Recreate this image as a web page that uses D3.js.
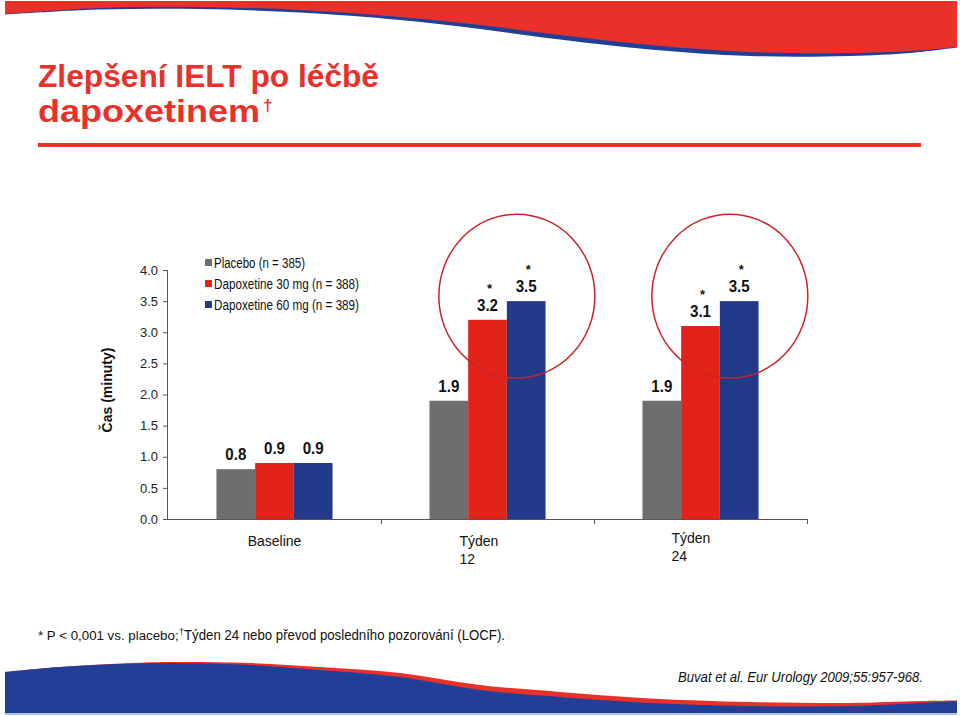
<!DOCTYPE html>
<html>
<head>
<meta charset="utf-8">
<script src="https://cdn.jsdelivr.net/npm/d3@7"></script>
<style>
  html,body{margin:0;padding:0;background:#fff;}
  svg{display:block;font-family:"Liberation Sans",Arial,Helvetica,sans-serif;}
</style>
</head>
<body>
<svg id="chart" width="960" height="716"></svg>
<script>
// ---- data ----
const categories = ["Baseline", "Týden 12", "Týden 24"];
const categoryLines = [["Baseline"], ["Týden", "12"], ["Týden", "24"]];
const seriesNames = ["Placebo (n = 385)", "Dapoxetine 30 mg (n = 388)", "Dapoxetine 60 mg (n = 389)"];
const placebo = [0.8, 1.9, 1.9];
const dapo30 = [0.9, 3.2, 3.1];
const dapo60 = [0.9, 3.5, 3.5];
const significant30 = [false, true, true];
const significant60 = [false, true, true];
const yTicks = [0, 0.5, 1.0, 1.5, 2.0, 2.5, 3.0, 3.5, 4.0];
const seriesColors = ["#6e6e6e", "#e2231a", "#233a8b"];

const svg = d3.select("#chart");

// ---- decorative waves ----
const waveRed = "#ea3129", waveBlue = "#213f97";
const curve = d3.line().curve(d3.curveCatmullRom.alpha(0.5));
const topEdge = [[5,14],[100,8],[200,7],[300,10],[400,17],[480,25],[560,35],[650,45],[750,52],[850,53],[910,51],[957,47]];
const topBlueOff = [0.5,1.5,2,2.5,3,4,4.5,4.5,4,3,2,0.5];
const topBlueEdge = topEdge.map((p,i)=>[p[0], p[1]+topBlueOff[i]]);
function bandPath(edge, yTop){
  const c = curve(edge.slice().reverse());
  return `M5,${yTop}L957,${yTop}L` + c.slice(1) + "Z";
}
svg.append("path").attr("d", bandPath(topBlueEdge, 1)).attr("fill", waveBlue);
svg.append("path").attr("d", bandPath(topEdge, 1)).attr("fill", waveRed);

const botEdge = [[5,672],[60,667],[120,664],[170,663],[250,665],[320,670],[400,677],[480,690],[560,697],[650,703],[750,706],[850,706],[920,703],[957,701]];
const botRedOff = [0,0,0.5,1,2,3,4,5,5,4.5,4,3,2,0.5];
const botRedEdge = botEdge.map((p,i)=>[p[0], p[1]-botRedOff[i]]);
function botPath(edge){
  return curve(edge) + "L957,713L5,713Z";
}
svg.append("path").attr("d", botPath(botRedEdge)).attr("fill", waveRed);
svg.append("path").attr("d", botPath(botEdge)).attr("fill", waveBlue);
svg.append("rect").attr("x",5).attr("y",713).attr("width",952).attr("height",2).attr("fill","#a9c3e0");

// ---- title ----
const titleColor = "#e8312a";
svg.append("text").attr("x",38).attr("y",87).attr("fill",titleColor)
  .attr("font-size",31).attr("font-weight","bold")
  .attr("textLength",341).attr("lengthAdjust","spacingAndGlyphs")
  .text("Zlepšení IELT po léčbě");
svg.append("text").attr("x",38).attr("y",121.5).attr("fill",titleColor)
  .attr("font-size",31).attr("font-weight","bold")
  .attr("textLength",222).attr("lengthAdjust","spacingAndGlyphs")
  .text("dapoxetinem");
svg.append("text").attr("x",263).attr("y",111).attr("fill",titleColor)
  .attr("font-size",17).attr("font-weight","bold").text("†");
svg.append("rect").attr("x",38).attr("y",143).attr("width",883).attr("height",4).attr("fill",titleColor);

// ---- chart ----
const x0 = 168, x1 = 807, yBase = 519, yTop = 270;
const x = d3.scaleBand().domain(categories).range([x0, x1]).paddingInner(0).paddingOuter(0);
const groupW = x.bandwidth() * 0.545;
const xs = d3.scaleBand().domain([0,1,2]).range([0, groupW]).padding(0);
const y = d3.scaleLinear().domain([0, 4]).range([yBase, yTop]);

const g = svg.append("g");

const yAxis = d3.axisLeft(y).tickValues(yTicks).tickFormat(d3.format(".1f")).tickSize(5).tickPadding(5);
const ya = g.append("g").attr("transform",`translate(${x0},0)`).call(yAxis);
ya.selectAll("text").attr("font-size",13).attr("fill","#222").attr("font-family","Liberation Sans, Arial, sans-serif");
ya.selectAll("line").attr("stroke","#555");
ya.select(".domain").attr("stroke","#555").attr("d",`M-0.5,${yTop}V${yBase}`);

const xa = g.append("g");
xa.append("line").attr("x1",x0).attr("x2",x1).attr("y1",yBase+0.5).attr("y2",yBase+0.5).attr("stroke","#555");
categories.forEach((c)=>{
  const bx = x(c) + x.bandwidth();
  xa.append("line").attr("x1",bx+0.5).attr("x2",bx+0.5).attr("y1",yBase).attr("y2",yBase+5).attr("stroke","#555");
});

const series = [placebo, dapo30, dapo60];
const sig = [null, significant30, significant60];
series.forEach((vals, si)=>{
  vals.forEach((v, ci)=>{
    const cx = x(categories[ci]) + (x.bandwidth()-groupW)/2 + xs(si);
    g.append("rect").attr("x",cx).attr("y",y(v)).attr("width",xs.bandwidth()).attr("height",yBase-y(v))
      .attr("fill",seriesColors[si]);
    const lx = cx + xs.bandwidth()/2;
    const ly = y(v) - 9;
    g.append("text").attr("x",lx).attr("y",ly).attr("text-anchor","middle")
      .attr("font-size",17).attr("font-weight","bold").attr("fill","#111")
      .attr("textLength",21).attr("lengthAdjust","spacingAndGlyphs")
      .text(v.toFixed(1));
    if (sig[si] && sig[si][ci]) {
      g.append("text").attr("x",lx+2).attr("y",ly-18.3).attr("text-anchor","middle")
        .attr("font-size",13).attr("font-weight","bold").attr("fill","#111").text("*");
    }
  });
});

[1,2].forEach(ci=>{
  const gx = x(categories[ci]) + (x.bandwidth()-groupW)/2;
  const cx = gx + xs(1) + xs.bandwidth();
  const cy = y(3.5) - 5;
  g.append("ellipse").attr("cx",cx+10).attr("cy",cy).attr("rx",78).attr("ry",82)
    .attr("fill","none").attr("stroke","#cc2229").attr("stroke-width",1.5);
});

const labelOffsets = [0, -28, -29];
const labelTop = [541, 541, 538];
categories.forEach((c,i)=>{
  const cx = x(c) + x.bandwidth()/2 + labelOffsets[i];
  const t = g.append("text").attr("x",cx).attr("y",labelTop[i]+5)
    .attr("text-anchor", i===0 ? "middle" : "start")
    .attr("font-size",14).attr("fill","#111");
  categoryLines[i].forEach((ln,j)=>{
    t.append("tspan").attr("x",cx).attr("dy", j===0?0:18).text(ln);
  });
});

g.append("text").attr("transform","translate(112,390) rotate(-90)")
  .attr("text-anchor","middle").attr("font-size",14).attr("font-weight","bold").attr("fill","#111")
  .text("Čas (minuty)");

const legendLens = [91, 145, 145];
seriesNames.forEach((n,i)=>{
  const ly = 263 + i*21;
  g.append("rect").attr("x",205).attr("y",ly-4).attr("width",7).attr("height",7).attr("fill",seriesColors[i]);
  g.append("text").attr("x",214).attr("y",ly+5).attr("font-size",14).attr("fill","#111")
    .attr("textLength",legendLens[i]).attr("lengthAdjust","spacingAndGlyphs").text(n);
});

// footnote as three side-by-side texts
svg.append("text").attr("x",38).attr("y",640).attr("font-size",13.3).attr("fill","#111")
  .text("* P < 0,001 vs. placebo;");
svg.append("text").attr("x",179).attr("y",635).attr("font-size",9).attr("fill","#111").text("†");
svg.append("text").attr("x",184).attr("y",640).attr("font-size",14).attr("fill","#111")
  .attr("textLength",321).attr("lengthAdjust","spacingAndGlyphs")
  .text("Týden 24 nebo převod posledního pozorování (LOCF).");

svg.append("text").attr("x",678).attr("y",682).attr("font-size",15).attr("font-style","italic").attr("fill","#111")
  .attr("textLength",245).attr("lengthAdjust","spacingAndGlyphs")
  .text("Buvat et al. Eur Urology 2009;55:957-968.");
</script>
</body>
</html>
